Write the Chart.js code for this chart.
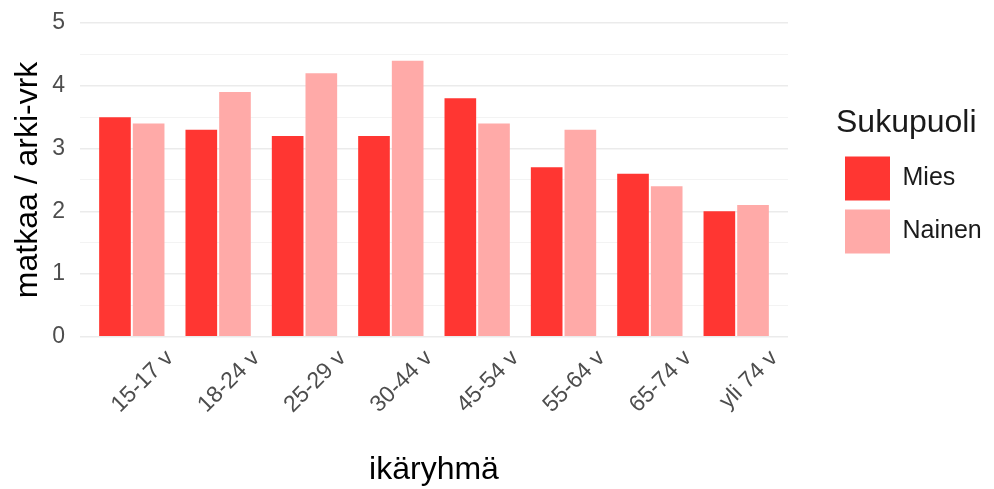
<!DOCTYPE html>
<html>
<head>
<meta charset="utf-8">
<script src="https://cdn.jsdelivr.net/npm/chart.js@4.4.1/dist/chart.umd.min.js"></script>
<style>
  html, body { margin: 0; padding: 0; background: #fff; }
  #wrap { width: 994px; height: 489px; position: relative; }
</style>
</head>
<body>
<div id="wrap"><canvas id="chart"></canvas></div>
<script>
const ageGroups = ['15-17 v', '18-24 v', '25-29 v', '30-44 v', '45-54 v', '55-64 v', '65-74 v', 'yli 74 v'];
const miesValues = [3.5, 3.3, 3.2, 3.2, 3.8, 2.7, 2.6, 2.0];
const nainenValues = [3.4, 3.9, 4.2, 4.4, 3.4, 3.3, 2.4, 2.1];
const yTicks = [0, 1, 2, 3, 4, 5];

const fontFamily = '"Liberation Sans", Arial, sans-serif';

// legend sits a bit off the plot like ggplot does
const legendShift = {
    id: 'legendShift',
    beforeInit(chart) {
        const legend = chart.legend;
        const origFit = legend.fit;
        legend.fit = function () {
            origFit.call(this);
            this.width = 206;
        };
        const origDraw = legend.draw;
        legend.draw = function (area) {
            const l = this.left;
            this.left = l + 48;
            origDraw.call(this, area);
            this.left = l;
        };
    }
};

const toPoints = arr => arr.map((v, i) => ({ x: i + 1, y: v }));

new Chart(document.getElementById('chart'), {
    type: 'bar',
    data: {
        datasets: [
            { label: 'Mies', data: toPoints(miesValues), backgroundColor: '#ff3632', borderWidth: 0 },
            { label: 'Nainen', data: toPoints(nainenValues), backgroundColor: '#ffaaa8', borderWidth: 0 }
        ]
    },
    options: {
        responsive: true,
        maintainAspectRatio: false,
        animation: false,
        categoryPercentage: 0.78,
        barPercentage: 0.94,
        layout: { padding: { top: 23, left: 0, right: 0, bottom: 0 } },
        plugins: {
            tooltip: { enabled: false },
            legend: {
                position: 'right',
                align: 'start',
                title: {
                    display: true,
                    text: 'Sukupuoli',
                    position: 'start',
                    color: '#1a1a1a',
                    font: { family: fontFamily, size: 32 },
                    padding: { top: 84, bottom: 2 }
                },
                labels: {
                    boxWidth: 45,
                    boxHeight: 44,
                    padding: 9,
                    color: '#1a1a1a',
                    font: { family: fontFamily, size: 25 }
                }
            }
        },
        scales: {
            x: {
                type: 'linear',
                offset: false,
                min: 0.4,
                max: 8.6,
                grid: { display: false, offset: false },
                border: { display: false },
                ticks: {
                    stepSize: 1,
                    includeBounds: false,
                    autoSkip: false,
                    minRotation: 45,
                    maxRotation: 45,
                    labelOffset: 38,
                    padding: 0,
                    color: '#4d4d4d',
                    font: { family: fontFamily, size: 23 },
                    callback: v => ageGroups[v - 1]
                },
                title: {
                    display: true,
                    text: 'ikäryhmä',
                    color: '#000',
                    font: { family: fontFamily, size: 32 },
                    padding: { top: 32, bottom: 0 }
                }
            },
            y: {
                min: 0,
                max: 5,
                border: { display: false },
                afterFit: scale => {
                    scale.width = 80;
                    scale.paddingTop = 0;
                },
                grid: {
                    drawTicks: false,
                    color: ctx => (Number.isInteger(ctx.tick.value) ? '#ebebeb' : '#f3f3f3'),
                    lineWidth: ctx => (Number.isInteger(ctx.tick.value) ? 1.6 : 1)
                },
                ticks: {
                    stepSize: 0.5,
                    padding: 15,
                    color: '#4d4d4d',
                    font: { family: fontFamily, size: 23 },
                    callback: v => (yTicks.includes(v) ? v : '')
                },
                title: {
                    display: true,
                    text: 'matkaa / arki-vrk',
                    color: '#000',
                    font: { family: fontFamily, size: 32 },
                    padding: { top: 9, bottom: 0 }
                }
            }
        }
    },
    plugins: [legendShift]
});
</script>
</body>
</html>
